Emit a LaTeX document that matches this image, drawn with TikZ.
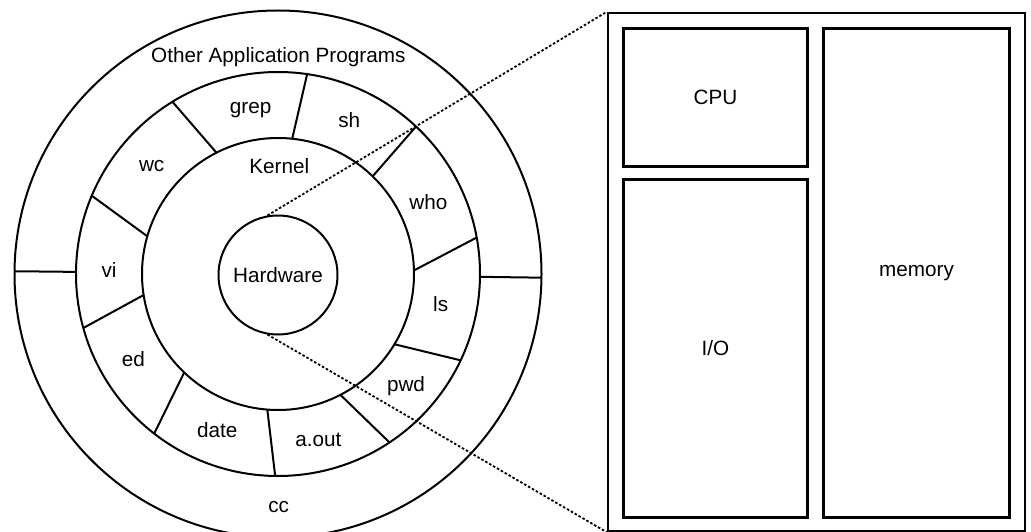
\documentclass[tikz,border=0pt]{standalone}
\usepackage{fontspec}
\setmainfont{Liberation Sans}
\usetikzlibrary{calc}
\begin{document}
\begin{tikzpicture}[x=1pt,y=-1pt,
  ring/.style={line width=2pt},
  spoke/.style={line width=2pt},
  lbl/.style={font=\fontsize{20.7}{24}\selectfont, anchor=base, inner sep=0pt},
  boxnode/.style={draw, line width=2.4pt, inner sep=0pt, font=\fontsize{20.7}{24}\selectfont},
  zoomline/.style={line width=1.8pt, dash pattern=on 2.5pt off 2pt}]
\useasboundingbox (0,0) rectangle (1031,532);
\coordinate (C) at (278,274);
% rings
\draw[ring] (C) circle[radius=263.5];
\draw[ring] (C) circle[radius=202];
\draw[ring] (C) circle[radius=136];
\node[circle, draw, line width=2pt, minimum size=119pt, inner sep=0pt,
      font=\fontsize{20.7}{24}\selectfont] (hw) at (278,275) {Hardware};
% outer ring separators
\draw[spoke] ($(C)+(180.6:263.5)$) -- ($(C)+(180.6:202)$);
\draw[spoke] ($(C)+(0.8:202)$) -- ($(C)+(0.8:263.5)$);
% program ring spokes
\foreach \ao/\ai in {-81.7/-84.0, -121.5/-116.9, -157.2/-163.9, 164.5/171.1,
                     127.8/133.6, 90.8/94.5, 56.5/62.7, 25.3/31.1,
                     -10.4/-1.5, -46.9/-45.9}
  \draw[spoke] ($(C)+(\ao:202)$) -- ($(C)+(\ai:136)$);
% labels
\node[lbl] (oap) at (278.3,62.8) {Other Application Programs};
\node[lbl] (grep) at (250.7,113.7) {grep};
\node[lbl] (sh) at (349.3,127.2) {sh};
\node[lbl] (wc) at (151.7,171.4) {wc};
\node[lbl] (kernel) at (279.3,173.2) {Kernel};
\node[lbl] (who) at (428.3,209.4) {who};
\node[lbl] (vi) at (109,277.6) {vi};
\node[lbl] (ls) at (440.7,311.5) {ls};
\node[lbl] (ed) at (133.3,366.5) {ed};
\node[lbl] (pwd) at (406,391.9) {pwd};
\node[lbl] (date) at (217.3,437.7) {date};
\node[lbl] (aout) at (318.3,446.2) {a.out};
\node[lbl] (cc) at (278.6,512.5) {cc};
% system box
\node[boxnode, minimum width=417pt, minimum height=518pt] (sys) at (816.5,272) {};
\node[boxnode, minimum width=184pt, minimum height=138pt] (cpu) at (715.5,97.5) {CPU};
\node[boxnode, minimum width=184pt, minimum height=338pt] (io) at (715.5,348.5) {I/O};
\node[boxnode, minimum width=186pt, minimum height=489pt] (mem) at (916.5,273) {memory};
% zoom lines
\draw[zoomline] (hw.100) -- (sys.north west);
\draw[zoomline] (hw.260) -- (sys.south west);
\end{tikzpicture}
\end{document}
